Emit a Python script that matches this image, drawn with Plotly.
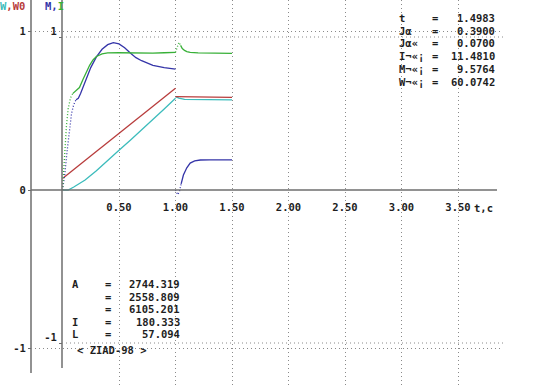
import plotly.graph_objects as go

# ---------------- data ----------------
t_ticks = [0.5, 1.0, 1.5, 2.0, 2.5, 3.0, 3.5]
t_tick_labels = ["0.50", "1.00", "1.50", "2.00", "2.50", "3.00", "3.50"]

# W (cyan) - left axis
w_t1 = [0, 0.05, 0.1, 0.2, 0.3, 0.4, 0.5, 0.6, 0.7, 0.8, 0.9, 1.0]
w_v1 = [0, 0, 0.019, 0.063, 0.121, 0.183, 0.251, 0.314, 0.378, 0.444, 0.511, 0.579]
w_t2 = [1.0, 1.03, 1.08, 1.2, 1.5]
w_v2 = [0.589, 0.58, 0.572, 0.57, 0.568]

# W0 (red) - left axis
w0_t1 = [0, 0.25, 0.5, 0.75, 1.0]
w0_v1 = [0.073, 0.215, 0.357, 0.5, 0.642]
w0_t2 = [1.0, 1.5]
w0_v2 = [0.589, 0.585]

# M (blue) - right axis
m_t_dot = [0, 0.02, 0.04, 0.06, 0.08, 0.10, 0.12]
m_v_dot = [0, 0.1, 0.25, 0.4, 0.5, 0.56, 0.59]
m_t1 = [0.12, 0.14, 0.16, 0.2, 0.25, 0.3, 0.35, 0.4, 0.45, 0.5, 0.55, 0.6, 0.65, 0.7, 0.8, 0.9, 1.0]
m_v1 = [0.59, 0.6, 0.63, 0.71, 0.8, 0.87, 0.92, 0.95, 0.963, 0.955, 0.93, 0.895, 0.865, 0.845, 0.815, 0.8, 0.79]
m_t2_dot = [1.0, 1.02, 1.035, 1.05]
m_v2_dot = [0.0, -0.03, -0.01, 0.04]
m_t2 = [1.05, 1.07, 1.1, 1.13, 1.17, 1.22, 1.3, 1.5]
m_v2 = [0.04, 0.098, 0.145, 0.176, 0.19, 0.196, 0.197, 0.197]

# I (green) - right axis
i_t_dot = [0, 0.01, 0.02, 0.035, 0.05, 0.07, 0.09]
i_v_dot = [0, 0.12, 0.28, 0.42, 0.53, 0.6, 0.63]
i_t1 = [0.09, 0.11, 0.13, 0.15, 0.18, 0.21, 0.24, 0.27, 0.3, 0.35, 0.4, 0.5, 0.6, 0.7, 0.8, 0.9, 1.0]
i_v1 = [0.63, 0.645, 0.655, 0.67, 0.72, 0.77, 0.815, 0.85, 0.873, 0.89, 0.896, 0.897, 0.895, 0.893, 0.895, 0.897, 0.9]
i_t2_dot = [1.0, 1.015, 1.03, 1.045]
i_v2_dot = [0.9, 0.94, 0.965, 0.945]
i_t2 = [1.045, 1.06, 1.08, 1.1, 1.13, 1.2, 1.5]
i_v2 = [0.945, 0.925, 0.912, 0.905, 0.9, 0.896, 0.893]

info_labels = ["t", "J\u03b1", "J\u03b1\u00ab", "I\u00ac\u00ab\u00a1", "M\u00ac\u00ab\u00a1", "W\u00ac\u00ab\u00a1"]
info_values = ["1.4983", "0.3900", "0.0700", "11.4810", "9.5764", "60.0742"]

res_labels = ["A", "", "", "I", "L"]
res_values = ["2744.319", "2558.809", "6105.201", "180.333", "57.094"]
signature = "< ZIAD-98 >"

# ---------------- style ----------------
W, H = 536, 385
FONT = "DejaVu Sans Mono"
FS = 10.5
TXT = "#1e1e1e"
C_W, C_W0, C_M, C_I = "#3cbcbc", "#b83c3c", "#3434a8", "#38b038"
GRID = "#8a8a8a"
AXC = "#6e6e6e"

def px(x):
    return x / W

def py(y):
    return 1 - y / H

def b(s):
    return f"<b>{s}</b>"

fig = go.Figure()

def add(t, v, color, axis, dash="solid"):
    fig.add_trace(go.Scatter(x=t, y=v, mode="lines", yaxis=axis,
                             line=dict(color=color, width=1.3, dash=dash),
                             hoverinfo="skip", showlegend=False))

add(w_t1, w_v1, C_W, "y")
add(w_t2, w_v2, C_W, "y")
add(w0_t1, w0_v1, C_W0, "y")
add(w0_t2, w0_v2, C_W0, "y")
add(m_t_dot, m_v_dot, C_M, "y2", "1px,2px")
add(m_t1, m_v1, C_M, "y2")
add(m_t2_dot, m_v2_dot, C_M, "y2", "1px,2px")
add(m_t2, m_v2, C_M, "y2")
add(i_t_dot, i_v_dot, C_I, "y2", "1px,2px")
add(i_t1, i_v1, C_I, "y2")
add(i_t2_dot, i_v2_dot, C_I, "y2", "1px,2px")
add(i_t2, i_v2, C_I, "y2")

# pixel mapping
x0_px, x_scale = 62.5, 113.0
zero_px = 190.0
left_scale, right_scale = 158.5, 153.0

xr = [(0 - x0_px) / x_scale, (W - x0_px) / x_scale]
yr_left = [-(H - zero_px) / left_scale, zero_px / left_scale]
yr_right = [-(H - zero_px) / right_scale, zero_px / right_scale]

shapes = []
for xp, yb in [(31, 373), (62, 368)]:
    shapes.append(dict(type="line", xref="paper", yref="paper",
                       x0=px(xp), x1=px(xp), y0=1, y1=py(yb),
                       line=dict(color=AXC, width=1.5)))
shapes.append(dict(type="line", xref="paper", yref="y", x0=px(31), x1=px(497),
                   y0=0, y1=0, line=dict(color=AXC, width=1.5)))
for yref, xs in [("y", 31), ("y2", 62)]:
    for val in (1, -1):
        shapes.append(dict(type="line", xref="paper", yref=yref, x0=px(xs), x1=px(503),
                           y0=val, y1=val, line=dict(color=GRID, width=1, dash="1px,3px")))

tf = dict(family=FONT, size=FS, color=TXT, weight="bold")
fig.update_layout(
    width=W, height=H, margin=dict(l=0, r=0, t=0, b=0),
    plot_bgcolor="white", paper_bgcolor="white",
    font=dict(family=FONT, size=FS, color=TXT),
    shapes=shapes,
    xaxis=dict(range=xr, tickvals=t_ticks, ticktext=t_tick_labels,
               showgrid=True, gridcolor=GRID, gridwidth=1, griddash="1px,3px",
               zeroline=False, showline=False, ticks="",
               anchor="free", position=py(zero_px), ticklabelstandoff=9,
               tickfont=tf),
    yaxis=dict(range=yr_left, tickvals=[-1, 0, 1], ticktext=["-1", "0", "1"],
               showgrid=False, zeroline=False, showline=False,
               ticks="outside", ticklen=3, tickcolor=AXC,
               anchor="free", position=px(31), side="left",
               tickfont=tf),
    yaxis2=dict(range=yr_right, tickvals=[-1, 1], ticktext=["-1", "1"],
                overlaying="y", showgrid=False, zeroline=False, showline=False,
                ticks="outside", ticklen=3, tickcolor=AXC,
                anchor="free", position=px(62), side="left", ticklabelshift=-6,
                tickfont=tf),
)

ann = []
def txt(x, y, s, anchor="left"):
    ann.append(dict(x=px(x), y=py(y), xref="paper", yref="paper", text=b(s),
                    showarrow=False, xanchor=anchor, yanchor="middle",
                    font=dict(family=FONT, size=FS, color=TXT)))

txt(-2, 6, f'<span style="color:{C_W}">W</span><span style="color:{C_W0}">,W0</span>')
txt(43, 6, f'<span style="color:{C_M}">M,</span><span style="color:{C_I}">I</span>')
txt(472, 208, "t,c")

for i, (lab, val) in enumerate(zip(info_labels, info_values)):
    y = 18 + 12.7 * i
    txt(397, y, lab)
    txt(430, y, "=")
    txt(497, y, val, anchor="right")

for i, (lab, val) in enumerate(zip(res_labels, res_values)):
    y = 284 + 12.5 * i
    if lab:
        txt(70, y, lab)
    txt(103, y, "=")
    txt(182, y, val, anchor="right")
txt(75, 350, signature)

fig.update_layout(annotations=ann)
fig.write_html("out.html", config={"displayModeBar": False},
               post_script="document.body.style.margin='0';")
